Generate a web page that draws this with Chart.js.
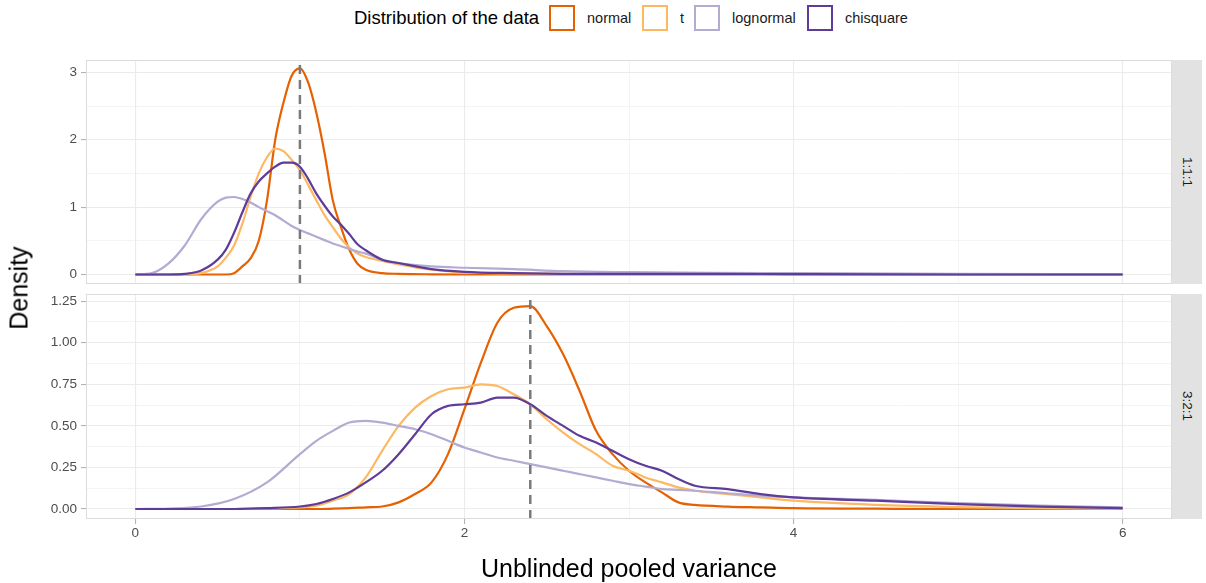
<!DOCTYPE html>
<html>
<head>
<meta charset="utf-8">
<script src="https://cdn.jsdelivr.net/npm/chart.js@4/dist/chart.umd.min.js"></script>
<style>
  body { margin: 0; width: 1206px; height: 583px; background: #fff; position: relative; overflow: hidden;
         font-family: "Liberation Sans", Arial, sans-serif; }
  canvas { position: absolute; left: 0; }
  .abs { position: absolute; white-space: nowrap; line-height: 1; }
  .key { position: absolute; top: 5px; width: 22px; height: 22px; border: 2.5px solid; }
  .lab { position: absolute; top: 11px; font-size: 14.5px; line-height: 1; color: #1a1a1a; }
  .strip { position: absolute; left: 1172px; width: 30px; background: #e2e2e2;
           display: flex; align-items: center; justify-content: center; }
  .strip span { writing-mode: vertical-rl; font-size: 13.5px; color: #1a1a1a; }
</style>
</head>
<body>
<div class="abs" style="left:354px; top:9px; font-size:18.5px; color:#000;">Distribution of the data</div>
<div id="legend"></div>

<canvas id="topPanel" width="1206" height="234" style="top:50px"></canvas>
<canvas id="bottomPanel" width="1206" height="299" style="top:284px"></canvas>

<div class="strip" style="top:60px; height:224px;"><span>1:1:1</span></div>
<div class="strip" style="top:294px; height:225px;"><span>3:2:1</span></div>

<div class="abs" style="left:19px; top:288px; font-size:25px; color:#000; transform: translate(-50%, -50%) rotate(-90deg);">Density</div>
<div class="abs" style="left:629px; top:568px; font-size:25px; color:#000; transform: translate(-50%, -50%);">Unblinded pooled variance</div>

<script>
// series names and colours
const seriesNames = ['normal', 't', 'lognormal', 'chisquare'];
const seriesColors = ['#e66101', '#fdb863', '#b2abd2', '#5e3c99'];

// x ticks shared by both panels
const xTicks = [0, 1, 2, 3, 4, 5, 6];

// panel 1:1:1
const xTop = [0, 0.1, 0.2, 0.3, 0.4, 0.5, 0.55, 0.6, 0.65, 0.7, 0.75, 0.8, 0.85, 0.9, 0.95, 1.0,
  1.05, 1.1, 1.15, 1.2, 1.25, 1.3, 1.35, 1.4, 1.5, 1.6, 1.8, 2.0, 2.3, 2.6, 3.0, 3.5, 4.0, 5.0, 6.0];
const normalTop = [0, 0, 0, 0, 0, 0, 0, 0.02, 0.12, 0.24, 0.5, 1.1, 2.0, 2.55, 2.95, 3.06,
  2.85, 2.4, 1.8, 1.1, 0.7, 0.37, 0.16, 0.07, 0.02, 0.01, 0.003, 0, 0, 0, 0, 0, 0, 0, 0];
const tTop = [0, 0, 0, 0, 0.02, 0.12, 0.25, 0.43, 0.75, 1.15, 1.5, 1.74, 1.87, 1.83, 1.7, 1.55,
  1.33, 1.1, 0.88, 0.7, 0.53, 0.4, 0.31, 0.26, 0.2, 0.15, 0.07, 0.03, 0.015, 0.008, 0.005, 0.003, 0.002, 0, 0];
const lognormalTop = [0, 0.02, 0.16, 0.43, 0.82, 1.08, 1.14, 1.15, 1.12, 1.07, 1.0, 0.94, 0.88, 0.8, 0.72, 0.66,
  0.61, 0.56, 0.51, 0.46, 0.42, 0.38, 0.34, 0.31, 0.22, 0.17, 0.12, 0.1, 0.08, 0.05, 0.035, 0.025, 0.02, 0.01, 0.005];
const chisquareTop = [0, 0, 0, 0.01, 0.06, 0.22, 0.37, 0.62, 0.92, 1.2, 1.38, 1.5, 1.6, 1.66, 1.66, 1.6,
  1.42, 1.2, 1.02, 0.86, 0.74, 0.6, 0.45, 0.36, 0.22, 0.17, 0.08, 0.04, 0.02, 0.01, 0.008, 0.01, 0.005, 0, 0];
const yTicksTop = [0, 0.5, 1, 1.5, 2, 2.5, 3];

// panel 3:2:1
const xBottom = [0, 0.2, 0.4, 0.6, 0.8, 1.0, 1.1, 1.2, 1.3, 1.4, 1.5, 1.6, 1.7, 1.8, 1.9, 2.0, 2.1, 2.2, 2.3,
  2.4, 2.5, 2.6, 2.7, 2.8, 2.9, 3.0, 3.1, 3.2, 3.3, 3.4, 3.6, 3.8, 4.0, 4.5, 5.0, 5.5, 6.0];
const normalBottom = [0, 0, 0, 0, 0, 0, 0, 0.002, 0.005, 0.01, 0.015, 0.04, 0.09, 0.16, 0.33, 0.6, 0.88, 1.12, 1.21,
  1.22, 1.1, 0.93, 0.71, 0.47, 0.33, 0.23, 0.16, 0.1, 0.04, 0.025, 0.015, 0.01, 0.005, 0.002, 0, 0, 0];
const tBottom = [0, 0, 0, 0, 0.003, 0.01, 0.02, 0.05, 0.09, 0.19, 0.35, 0.5, 0.61, 0.68, 0.72, 0.73, 0.75, 0.74, 0.69,
  0.63, 0.54, 0.46, 0.39, 0.33, 0.26, 0.23, 0.19, 0.16, 0.13, 0.11, 0.09, 0.07, 0.05, 0.025, 0.012, 0.005, 0.002];
const lognormalBottom = [0, 0.003, 0.015, 0.06, 0.16, 0.33, 0.41, 0.47, 0.52, 0.53, 0.52, 0.5, 0.48, 0.45, 0.41, 0.37, 0.34, 0.31, 0.29,
  0.27, 0.25, 0.23, 0.21, 0.19, 0.17, 0.15, 0.135, 0.12, 0.115, 0.11, 0.095, 0.08, 0.07, 0.055, 0.035, 0.02, 0.01];
const chisquareBottom = [0, 0, 0, 0, 0.005, 0.015, 0.03, 0.06, 0.1, 0.16, 0.23, 0.33, 0.45, 0.57, 0.62, 0.63, 0.64, 0.67, 0.67,
  0.63, 0.56, 0.5, 0.44, 0.4, 0.35, 0.3, 0.26, 0.23, 0.18, 0.14, 0.12, 0.09, 0.07, 0.05, 0.03, 0.015, 0.005];
const yTicksBottom = [0, 0.125, 0.25, 0.375, 0.5, 0.625, 0.75, 0.875, 1, 1.125, 1.25];

// true variance per panel (dashed line)
const trueVariance = [1, 2.4];

// legend keys
const keyLeft = [549, 642, 694, 807];
const labLeft = [587, 680, 732, 845];
const legend = document.getElementById('legend');
seriesNames.forEach((name, i) => {
  const k = document.createElement('div');
  k.className = 'key';
  k.style.left = keyLeft[i] + 'px';
  k.style.borderColor = seriesColors[i];
  legend.appendChild(k);
  const l = document.createElement('div');
  l.className = 'lab';
  l.style.left = labLeft[i] + 'px';
  l.textContent = name;
  legend.appendChild(l);
});

const panelBorder = {
  id: 'panelBorder',
  afterDatasetsDraw(chart) {
    const a = chart.chartArea, ctx = chart.ctx;
    ctx.save();
    ctx.strokeStyle = '#dcdcdc';
    ctx.lineWidth = 1;
    ctx.strokeRect(a.left + 0.5, a.top + 0.5, a.right - a.left - 1, a.bottom - a.top - 1);
    ctx.restore();
  }
};

function makePanel(id, xs, ys, yMin, yMax, yTicks, isMajorY, fmtY, vline, showX) {
  const datasets = ys.map((vals, i) => ({
    label: seriesNames[i],
    data: xs.map((x, j) => ({ x: x, y: vals[j] })),
    borderColor: seriesColors[i],
    borderWidth: 2.2,
    pointRadius: 0,
    cubicInterpolationMode: 'monotone',
    order: 4 - i
  }));
  datasets.push({
    label: 'truth',
    data: [{ x: vline, y: yMin }, { x: vline, y: yMax }],
    borderColor: '#7a7a7a',
    borderWidth: 2.5,
    borderDash: [9, 6],
    pointRadius: 0,
    order: 0
  });
  const isMajorX = v => v % 2 === 0;
  return new Chart(document.getElementById(id), {
    type: 'line',
    data: { datasets },
    plugins: [panelBorder],
    options: {
      responsive: false,
      animation: false,
      layout: { padding: { left: 0, right: 34, top: 10, bottom: 0 } },
      plugins: { legend: { display: false }, tooltip: { enabled: false } },
      scales: {
        x: {
          type: 'linear', min: -0.3, max: 6.3,
          afterBuildTicks: a => { a.ticks = xTicks.map(v => ({ value: v })); },
          afterFit: a => { a.height = showX ? 64 : 0; a.paddingLeft = 0; a.paddingRight = 0; },
          border: { display: false },
          grid: {
            color: '#ebebeb',
            lineWidth: c => (c.tick && isMajorX(c.tick.value)) ? 1.1 : 0.55,
            drawTicks: showX, tickLength: 5,
            tickColor: c => (c.tick && isMajorX(c.tick.value)) ? '#b3b3b3' : 'rgba(0,0,0,0)'
          },
          ticks: {
            display: showX, color: '#4d4d4d', font: { size: 13.5 }, padding: 1,
            maxRotation: 0, autoSkip: false,
            callback: v => isMajorX(v) ? String(v) : ''
          }
        },
        y: {
          type: 'linear', min: yMin, max: yMax,
          afterBuildTicks: a => { a.ticks = yTicks.map(v => ({ value: v })); },
          afterFit: a => { a.width = 86; a.paddingTop = 0; a.paddingBottom = 0; },
          border: { display: false },
          grid: {
            color: '#ebebeb',
            lineWidth: c => (c.tick && isMajorY(c.tick.value)) ? 1.1 : 0.55,
            tickLength: 5,
            tickColor: c => (c.tick && isMajorY(c.tick.value)) ? '#b3b3b3' : 'rgba(0,0,0,0)'
          },
          ticks: {
            color: '#4d4d4d', font: { size: 13.5 }, padding: 4, autoSkip: false,
            callback: v => isMajorY(v) ? fmtY(v) : ''
          }
        }
      }
    }
  });
}

makePanel('topPanel', xTop, [normalTop, tTop, lognormalTop, chisquareTop],
  -0.141, 3.183, yTicksTop, v => Number.isInteger(v), v => String(v), trueVariance[0], false);

makePanel('bottomPanel', xBottom, [normalBottom, tBottom, lognormalBottom, chisquareBottom],
  -0.060, 1.293, yTicksBottom, v => Math.abs(v * 4 - Math.round(v * 4)) < 1e-9, v => v.toFixed(2), trueVariance[1], true);
</script>
</body>
</html>
